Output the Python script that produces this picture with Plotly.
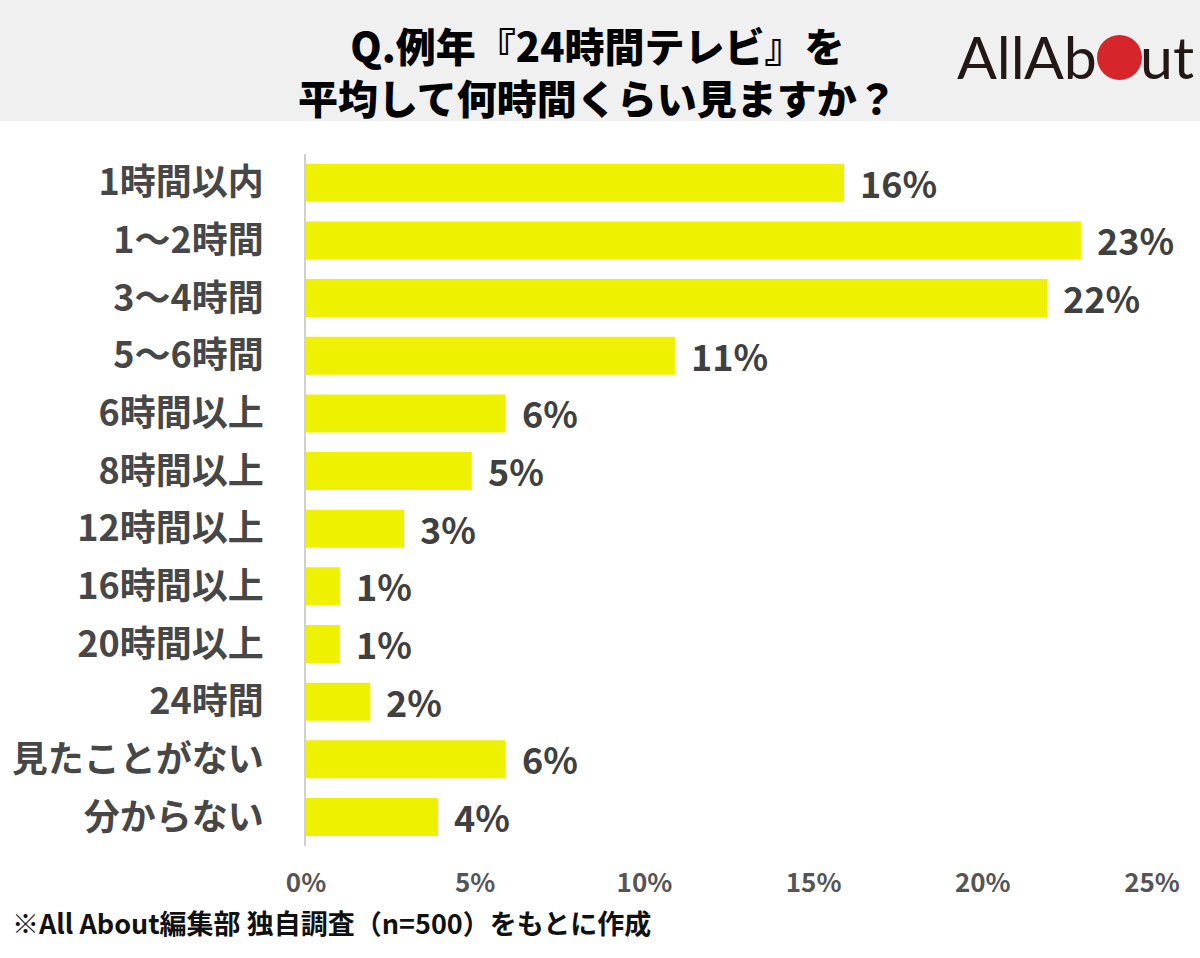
import plotly.graph_objects as go

W, H = 1200, 958

categories = ["1時間以内", "1～2時間", "3～4時間", "5～6時間", "6時間以上", "8時間以上",
              "12時間以上", "16時間以上", "20時間以上", "24時間", "見たことがない", "分からない"]
values = [15.9, 22.9, 21.9, 10.9, 5.9, 4.9, 2.9, 1.0, 1.0, 1.9, 5.9, 3.9]
value_labels = ["16%", "23%", "22%", "11%", "6%", "5%", "3%", "1%", "1%", "2%", "6%", "4%"]
x_ticks = [0, 5, 10, 15, 20, 25]
x_tick_labels = ["0%", "5%", "10%", "15%", "20%", "25%"]

title_lines = ["Q.例年『24時間テレビ』を", "平均して何時間くらい見ますか？"]
footer = "※All About編集部 独自調査（n=500）をもとに作成"

FONT = "Noto Sans CJK JP"


def px(x):
    return x / W


def py(y):
    return 1 - y / H


fig = go.Figure()
fig.add_trace(go.Bar(
    y=categories, x=values, orientation="h",
    marker=dict(color="#eef200", line=dict(width=0)),
    hoverinfo="skip",
))

# value labels placed at the bar ends through the axes
for cat, val, lab in zip(categories, values, value_labels):
    fig.add_annotation(x=val, y=cat, xref="x", yref="y", text=lab,
                       xanchor="left", yanchor="middle", xshift=14, yshift=1,
                       showarrow=False,
                       font=dict(family=FONT, size=36, color="#404040", weight="bold"))

fig.update_layout(
    width=W, height=H,
    margin=dict(l=0, r=0, t=0, b=0),
    paper_bgcolor="white", plot_bgcolor="white",
    showlegend=False,
    bargap=0.34,
    font=dict(family=FONT),
    xaxis=dict(
        domain=[px(306), px(1152)], range=[0, 25],
        tickvals=x_ticks, ticktext=x_tick_labels,
        showgrid=False, zeroline=False, showline=False,
        tickfont=dict(family=FONT, size=26, color="#555555", weight="bold"),
        ticklabelstandoff=19, automargin=False,
    ),
    yaxis=dict(
        domain=[py(846), py(154)],
        categoryorder="array", categoryarray=categories,
        autorange="reversed",
        showgrid=False, zeroline=False,
        showline=True, linecolor="#d0d0d0", linewidth=2,
        tickfont=dict(family=FONT, size=36, color="#474747", weight="bold"),
        ticklabelstandoff=33, automargin=False,
    ),
)

# header band
fig.add_shape(type="rect", xref="paper", yref="paper",
              x0=0, x1=1, y0=py(121), y1=1,
              fillcolor="#f0f0f0", line=dict(width=0), layer="below")

# title
fig.add_annotation(text="<br>".join(title_lines), xref="paper", yref="paper",
                   x=px(597), y=py(71), xanchor="center", yanchor="middle",
                   showarrow=False, align="center",
                   font=dict(family=FONT, size=40, color="#000000", weight=900))

# logo
LOGO_FONT = dict(family="Lato", size=59, color="#231815", weight=400)
fig.add_annotation(text="All", xref="paper", yref="paper",
                   x=px(955), y=py(57), xanchor="left", yanchor="middle",
                   showarrow=False, font=LOGO_FONT)
fig.add_annotation(text="Ab", xref="paper", yref="paper",
                   x=px(1099), y=py(57), xanchor="right", yanchor="middle",
                   showarrow=False, font=LOGO_FONT)
fig.add_shape(type="circle", xref="paper", yref="paper",
              x0=px(1097), x1=px(1142), y0=py(80), y1=py(35),
              fillcolor="#d7262b", line=dict(width=0))
fig.add_annotation(text="ut", xref="paper", yref="paper",
                   x=px(1138), y=py(57), xanchor="left", yanchor="middle",
                   showarrow=False, font=LOGO_FONT)

# footer
fig.add_annotation(text=footer, xref="paper", yref="paper",
                   x=px(10), y=py(922), xanchor="left", yanchor="middle",
                   showarrow=False,
                   font=dict(family=FONT, size=27, color="#111111", weight="bold"))

fig.write_html("out.html", config={"displayModeBar": False},
               post_script="document.body.style.margin='0';")
